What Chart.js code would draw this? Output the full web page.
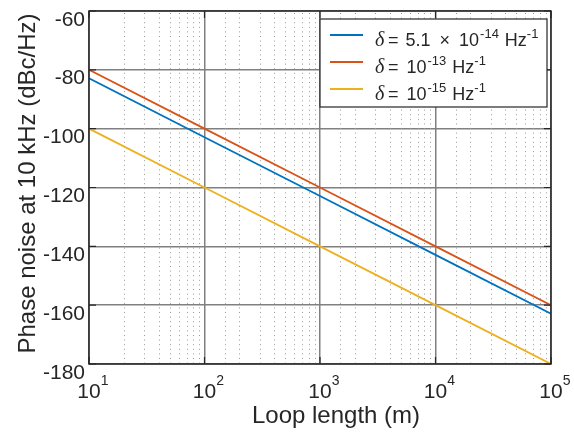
<!DOCTYPE html>
<html>
<head>
<meta charset="utf-8">
<script src="https://cdn.jsdelivr.net/npm/chart.js@4.4.1/dist/chart.umd.min.js"></script>
<style>
  html, body { margin: 0; padding: 0; background: #fff; }
  #wrap { width: 574px; height: 432px; }
</style>
</head>
<body>
<div id="wrap"><canvas id="chart" width="574" height="432"></canvas></div>
<script>
// --- DONNÉES ---
const loopLengths = [10, 100, 1000, 10000, 100000];
const noiseDelta51e14 = [-82.9, -102.9, -122.9, -142.9, -162.9];
const noiseDelta1e13 = [-80, -100, -120, -140, -160];
const noiseDelta1e15 = [-100, -120, -140, -160, -180];
const yTicks = [-180, -160, -140, -120, -100, -80, -60];
const xTickExps = [1, 2, 3, 4, 5];
const seriesColors = ['#0072BD', '#D95319', '#EDB120'];
// legend pieces: text, superscript flag, gap before
const legendRows = [
  [['=', 0, 0], ['5.1', 0, 7], ['×', 0, 9], ['10', 0, 9], ['-14', 1, 1], ['Hz', 0, 6], ['-1', 1, 0]],
  [['=', 0, 0], ['10', 0, 8], ['-13', 1, 1], ['Hz', 0, 6], ['-1', 1, 0]],
  [['=', 0, 0], ['10', 0, 8], ['-15', 1, 1], ['Hz', 0, 6], ['-1', 1, 0]]
];

const SANS = '"Liberation Sans", Arial, sans-serif';
const DARK = '#262626';
const isDecade = v => Math.abs(Math.log10(v) - Math.round(Math.log10(v))) < 1e-9;
const toPts = ys => loopLengths.map((x, i) => ({ x: x, y: ys[i] }));

// --- DÉCOR : grille mineure, cadre, textes, légende ---
const decor = {
  id: 'decor',
  beforeDatasetsDraw(chart) {
    const { ctx, chartArea: a, scales: { x } } = chart;
    ctx.save();
    ctx.strokeStyle = '#9a9a9a';
    ctx.lineWidth = 1;
    ctx.setLineDash([1, 3.6]);
    x.ticks.forEach(t => {
      if (isDecade(t.value)) return;
      const px = Math.round(x.getPixelForValue(t.value)) + 0.5;
      ctx.beginPath();
      ctx.moveTo(px, a.top + 2);
      ctx.lineTo(px, a.bottom);
      ctx.stroke();
    });
    ctx.restore();
  },
  afterDraw(chart) {
    const { ctx, chartArea: a, scales: { x, y } } = chart;
    ctx.save();

    // cadre + graduations intérieures
    ctx.strokeStyle = DARK;
    ctx.lineWidth = 1.5;
    ctx.strokeRect(a.left, a.top, a.right - a.left, a.bottom - a.top);
    ctx.lineWidth = 1.2;
    ctx.beginPath();
    xTickExps.forEach(e => {
      const px = x.getPixelForValue(Math.pow(10, e));
      ctx.moveTo(px, a.bottom); ctx.lineTo(px, a.bottom - 7);
      ctx.moveTo(px, a.top); ctx.lineTo(px, a.top + 7);
    });
    yTicks.forEach(v => {
      const py = y.getPixelForValue(v);
      ctx.moveTo(a.left, py); ctx.lineTo(a.left + 7, py);
      ctx.moveTo(a.right, py); ctx.lineTo(a.right - 7, py);
    });
    ctx.stroke();

    // étiquettes Y
    ctx.fillStyle = DARK;
    ctx.font = '21px ' + SANS;
    ctx.textAlign = 'right';
    ctx.textBaseline = 'alphabetic';
    yTicks.forEach(v => {
      ctx.fillText(String(v), a.left - 4, y.getPixelForValue(v) + 14.5);
    });

    // étiquettes X (10^n)
    xTickExps.forEach(e => {
      const px = x.getPixelForValue(Math.pow(10, e));
      ctx.font = '21px ' + SANS;
      ctx.textAlign = 'center';
      ctx.fillText('10', px, 398);
      const w = ctx.measureText('10').width;
      ctx.font = '14px ' + SANS;
      ctx.textAlign = 'left';
      ctx.fillText(String(e), px + w / 2, 385);
    });

    // titres
    ctx.font = '24px ' + SANS;
    ctx.textAlign = 'center';
    ctx.fillText('Loop length (m)', (a.left + a.right) / 2 + 16, 423);
    ctx.save();
    ctx.translate(35, (a.top + a.bottom) / 2 - 4);
    ctx.rotate(-Math.PI / 2);
    ctx.fillText('Phase noise at 10 kHz (dBc/Hz)', 0, 0);
    ctx.restore();

    // légende
    const lx = 320, ly = 19, lw = 227, lh = 88;
    ctx.fillStyle = '#fff';
    ctx.fillRect(lx, ly, lw, lh);
    ctx.strokeStyle = DARK;
    ctx.lineWidth = 1.2;
    ctx.strokeRect(lx, ly, lw, lh);
    chart.data.datasets.forEach((ds, i) => {
      const yl = 35 + 27 * i, yb = 46 + 27 * i;
      ctx.strokeStyle = ds.borderColor;
      ctx.lineWidth = 1.8;
      ctx.beginPath();
      ctx.moveTo(330, yl); ctx.lineTo(363, yl);
      ctx.stroke();
      ctx.fillStyle = DARK;
      ctx.textAlign = 'left';
      ctx.font = 'italic 20px "Liberation Serif", "Times New Roman", serif';
      ctx.fillText('δ', 375, yb);
      let cx = 388;
      legendRows[i].forEach(([t, sup, gap]) => {
        cx += gap;
        ctx.font = (sup ? '13px ' : '18px ') + SANS;
        ctx.fillText(t, cx, sup ? yb - 8 : yb);
        cx += ctx.measureText(t).width;
      });
    });
    ctx.restore();
  }
};

new Chart(document.getElementById('chart'), {
  type: 'line',
  data: {
    datasets: [
      { label: 'δ = 5.1 × 10^-14 Hz^-1', data: toPts(noiseDelta51e14), borderColor: seriesColors[0] },
      { label: 'δ = 10^-13 Hz^-1', data: toPts(noiseDelta1e13), borderColor: seriesColors[1] },
      { label: 'δ = 10^-15 Hz^-1', data: toPts(noiseDelta1e15), borderColor: seriesColors[2] }
    ].map(d => Object.assign(d, { borderWidth: 1.8, pointRadius: 0, tension: 0, fill: false }))
  },
  options: {
    responsive: false,
    animation: false,
    devicePixelRatio: 1,
    layout: { padding: { top: 11, right: 23, left: 0, bottom: 0 } },
    plugins: { legend: { display: false }, tooltip: { enabled: false } },
    scales: {
      x: {
        type: 'logarithmic', min: 10, max: 100000,
        ticks: { display: false, autoSkip: false },
        grid: { color: c => (c.tick && isDecade(c.tick.value)) ? '#808080' : 'rgba(0,0,0,0)', lineWidth: 1.5, drawTicks: false },
        border: { display: false },
        afterFit: s => { s.height = 68; }
      },
      y: {
        type: 'linear', min: -180, max: -60,
        ticks: { display: false, stepSize: 20 },
        grid: { color: '#808080', lineWidth: 1.5, drawTicks: false },
        border: { display: false },
        afterFit: s => { s.width = 89; }
      }
    }
  },
  plugins: [decor]
});
</script>
</body>
</html>
